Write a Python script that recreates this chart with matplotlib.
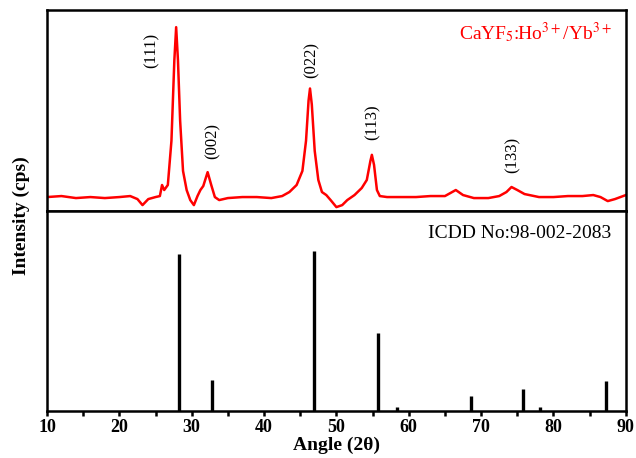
import numpy as np
import matplotlib.pyplot as plt
from matplotlib.ticker import MultipleLocator

plt.rcParams['font.family'] = ['Liberation Serif', 'DejaVu Serif']
plt.rcParams['mathtext.fontset'] = 'stix'

angle = [10, 12, 14, 16, 18, 20, 21.5, 22.5, 23.2, 24, 25, 25.6, 25.9, 26.2, 26.7,
         27.2, 27.6, 27.85, 28.1, 28.4, 28.8, 29.3, 29.8, 30.3, 30.8, 31.2, 31.6,
         32.2, 32.7, 33.2, 33.8, 35, 37, 39, 41, 42.5, 43.5, 44.5, 45.3, 45.8,
         46.15, 46.35, 46.6, 47.0, 47.5, 48, 48.6, 49.2, 50, 50.8, 51.5, 52.5,
         53.5, 54.2, 54.7, 54.9, 55.2, 55.6, 56, 57, 59, 61, 63, 65, 66.5, 67.5,
         69, 71, 72.5, 73.5, 74.2, 75, 76, 78, 80, 82, 84, 85.5, 86.5, 87.5, 88.5, 90]
intensity = [7, 7.5, 6.5, 7, 6.5, 7, 7.5, 6, 3, 6, 7, 7.5, 13, 10.5, 13,
             35, 75, 91.5, 75, 45, 20, 10.5, 5.5, 3, 7.5, 10.5, 12.5,
             19.4, 13, 7, 5.5, 6.5, 7, 7, 6.5, 7.5, 9.5, 13, 20, 35,
             55, 61, 53, 30, 15.5, 9.5, 8, 5.5, 2, 3, 5.5, 8,
             11.5, 15.5, 25, 28, 23, 10.5, 7.5, 7, 7, 7, 7.5, 7.5, 10.5, 8,
             6.5, 6.5, 7.5, 9.5, 12, 10.5, 8.5, 7, 7, 7.5, 7.5, 8, 7, 5, 6, 8]

# reference card ICDD 98-002-2083
ref_angle = [28.27, 32.79, 46.97, 55.76, 58.4, 68.56, 75.75, 78.1, 87.2]
ref_int = [78.4, 15.6, 79.9, 39.2, 2.0, 7.5, 11.0, 2.0, 15.0]

# Miller indices and label positions
hkl = ['(111)', '(002)', '(022)', '(113)', '(133)']
hkl_x = [24.5, 32.9, 46.6, 55.0, 74.3]
hkl_y = [80, 35, 75, 44, 28]

fig = plt.figure(figsize=(6.36, 4.58), dpi=100)
ax1 = fig.add_axes([0.0739, 0.539, 0.9101, 0.439])
ax2 = fig.add_axes([0.0739, 0.1026, 0.9101, 0.4364])

ax1.plot(angle, intensity, color='red', lw=1.8)
ax1.set_xlim(10, 90)
ax1.set_ylim(0, 100)
for lab, x, y in zip(hkl, hkl_x, hkl_y):
    ax1.text(x, y, lab, rotation=90, ha='center', va='center', fontsize=12)
ax1.text(0.975, 0.89, r'CaYF$_5$:Ho$^{3+}$/Yb$^{3+}$', transform=ax1.transAxes,
         ha='right', va='center', color='red', fontsize=14)
ax1.set_xticks([])
ax1.set_yticks([])

ax2.vlines(ref_angle, 0, ref_int, color='black', lw=2.4)
ax2.set_xlim(10, 90)
ax2.set_ylim(0, 100)
ax2.set_yticks([])
ax2.xaxis.set_major_locator(MultipleLocator(10))
ax2.xaxis.set_minor_locator(MultipleLocator(5))
ax2.tick_params(axis='x', which='both', direction='out', length=3.5, width=1.8, pad=2)
for t in ax2.get_xticklabels():
    t.set_fontweight('bold')
    t.set_fontsize(13)
ax2.text(0.975, 0.89, 'ICDD No:98-002-2083', transform=ax2.transAxes,
         ha='right', va='center', fontsize=14)
ax2.set_xlabel('Angle (2θ)', fontweight='bold', fontsize=14, labelpad=1)

for ax in (ax1, ax2):
    for s in ax.spines.values():
        s.set_linewidth(1.8)

fig.text(0.034, 0.53, 'Intensity (cps)', rotation=90, ha='center', va='center',
         fontweight='bold', fontsize=14)

plt.savefig('out.png', dpi=100)
